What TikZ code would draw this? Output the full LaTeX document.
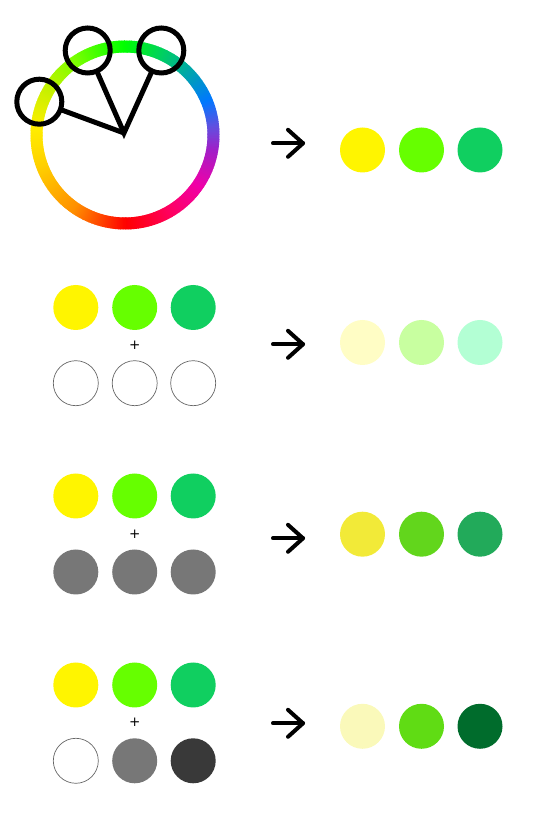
\documentclass[tikz,border=0pt]{standalone}
\usepackage{fontspec}
\newfontfamily\plusfont{DejaVu Sans}
\usetikzlibrary{calc}
\definecolor{cyel}{HTML}{FFF500}
\definecolor{cgrn}{HTML}{66FF00}
\definecolor{ctea}{HTML}{10CF60}
\definecolor{t1}{HTML}{FFFDC5}
\definecolor{t2}{HTML}{C8FFA0}
\definecolor{t3}{HTML}{B3FFD4}
\definecolor{m1}{HTML}{F2EA38}
\definecolor{m2}{HTML}{62D61C}
\definecolor{m3}{HTML}{22AA5A}
\definecolor{n1}{HTML}{FAF9BA}
\definecolor{n2}{HTML}{60DC14}
\definecolor{n3}{HTML}{006C2C}
\definecolor{gmid}{HTML}{777777}
\definecolor{gdark}{HTML}{393939}
% wheel stops
\definecolor{w0}{HTML}{FF0000}
\definecolor{w1}{HTML}{FF0060}
\definecolor{w2}{HTML}{F000A8}
\definecolor{w3}{HTML}{A020C8}
\definecolor{w4}{HTML}{6050E0}
\definecolor{w5}{HTML}{0078FF}
\definecolor{w6}{HTML}{00A8A8}
\definecolor{w7}{HTML}{00D060}
\definecolor{w8}{HTML}{00FF00}
\definecolor{w9}{HTML}{80FF00}
\definecolor{w10}{HTML}{C8F000}
\definecolor{w11}{HTML}{FFEE00}
\definecolor{w12}{HTML}{FFD000}
\definecolor{w13}{HTML}{FF9000}
\definecolor{w14}{HTML}{FF4000}
\begin{document}
\begin{tikzpicture}[x=1pt,y=1pt,
  dot/.style={circle, minimum size=45pt, inner sep=0pt, outer sep=0pt},
  hollow/.style={dot, draw=black!60, line width=0.7pt},
  sel/.style={circle, draw=black, line width=5pt, minimum size=45pt, inner sep=0pt, outer sep=0pt},
  arrowline/.style={line width=4pt, line cap=round, line join=round},
  handle/.style={line width=5pt, line join=miter},
  plus/.style={font=\plusfont\fontsize{13.5}{13.5}\selectfont, inner sep=0pt}]
\useasboundingbox (0,0) rectangle (542,814);

% ---- colour wheel ----
\coordinate (wc) at (125,679);
\coordinate (hub) at (124,681);
\foreach \sa/\ea/\ca/\cb in {-90/-60/w0/w1, -60/-35/w1/w2, -35/-10/w2/w3, -10/5/w3/w4, 5/22/w4/w5, 22/45/w5/w6, 45/65/w6/w7, 65/90/w7/w8, 90/125/w8/w9, 125/150/w9/w10, 150/175/w10/w11, 175/200/w11/w12, 200/235/w12/w13, 235/255/w13/w14, 255/270/w14/w0}{
  \pgfmathtruncatemacro{\N}{\ea-\sa-1}
  \foreach \k in {0,...,\N}{
    \pgfmathsetmacro{\p}{100*\k/(\ea-\sa)}
    \pgfmathsetmacro{\t}{\sa+\k}
    \draw[line width=12pt, color=\cb!\p!\ca] ($(wc)+(\t:88.5)$) arc[start angle=\t, end angle=\t+1.5, radius=88.5];
  }
}
\node[sel] (s1) at (39.3,712.3) {};
\node[sel] (s2) at (87.7,763.5) {};
\node[sel] (s3) at (161.3,763.5) {};
\draw[handle] (s1) -- (hub);
\draw[handle] (s2) -- (hub) -- (s3);

% ---- arrows ----
\foreach \i/\y in {1/670.7, 2/469.7, 3/275.7, 4/90.7}{
  \coordinate (a\i s) at (273,\y);
  \coordinate (a\i e) at (303,\y);
  \draw[arrowline] (a\i s) -- (a\i e);
  \draw[arrowline] ($(a\i e)+(-15,13.5)$) -- (a\i e) -- ($(a\i e)+(-15,-13.5)$);
}

% ---- row 1 result ----
\node[dot, fill=cyel] (r1a) at (362.5,664) {};
\node[dot, fill=cgrn] (r1b) at (421.5,664) {};
\node[dot, fill=ctea] (r1c) at (480,664) {};

% ---- row 2 ----
\node[dot, fill=cyel] (l2a) at (75.8,506.5) {};
\node[dot, fill=cgrn] (l2b) at (134.7,506.5) {};
\node[dot, fill=ctea] (l2c) at (193.2,506.5) {};
\node[plus] (p2) at (134.7,468.3) {+};
\node[hollow] (b2a) at (75.8,430.8) {};
\node[hollow] (b2b) at (134.7,430.8) {};
\node[hollow] (b2c) at (193.2,430.8) {};
\node[dot, fill=t1] (r2a) at (362.5,471.5) {};
\node[dot, fill=t2] (r2b) at (421.5,471.5) {};
\node[dot, fill=t3] (r2c) at (480,471.5) {};

% ---- row 3 ----
\node[dot, fill=cyel] (l3a) at (75.8,318) {};
\node[dot, fill=cgrn] (l3b) at (134.7,318) {};
\node[dot, fill=ctea] (l3c) at (193.2,318) {};
\node[plus] (p3) at (134.7,279.8) {+};
\node[dot, fill=gmid] (b3a) at (75.8,242) {};
\node[dot, fill=gmid] (b3b) at (134.7,242) {};
\node[dot, fill=gmid] (b3c) at (193.2,242) {};
\node[dot, fill=m1] (r3a) at (362.5,279.8) {};
\node[dot, fill=m2] (r3b) at (421.5,279.8) {};
\node[dot, fill=m3] (r3c) at (480,279.8) {};

% ---- row 4 ----
\node[dot, fill=cyel] (l4a) at (75.8,129) {};
\node[dot, fill=cgrn] (l4b) at (134.7,129) {};
\node[dot, fill=ctea] (l4c) at (193.2,129) {};
\node[plus] (p4) at (134.7,91.3) {+};
\node[hollow] (b4a) at (75.8,53.2) {};
\node[dot, fill=gmid] (b4b) at (134.7,53.2) {};
\node[dot, fill=gdark] (b4c) at (193.2,53.2) {};
\node[dot, fill=n1] (r4a) at (362.5,87.7) {};
\node[dot, fill=n2] (r4b) at (421.5,87.7) {};
\node[dot, fill=n3] (r4c) at (480,87.7) {};
\end{tikzpicture}
\end{document}
